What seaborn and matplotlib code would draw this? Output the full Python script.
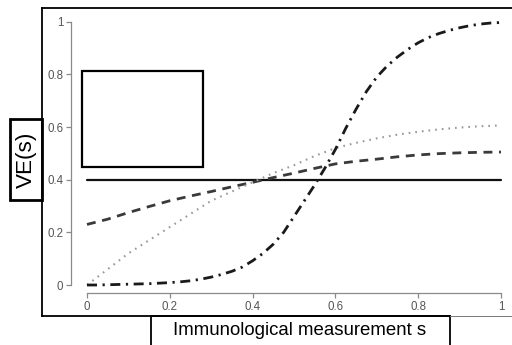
import numpy as np
import pandas as pd
import seaborn as sns
import matplotlib
matplotlib.use("Agg")
import matplotlib.pyplot as plt
from matplotlib.lines import Line2D
from matplotlib.patches import Rectangle

# ---- data ----
s = [0.0, 0.05, 0.1, 0.15, 0.2, 0.25, 0.3, 0.35, 0.4, 0.45, 0.5,
     0.55, 0.6, 0.65, 0.7, 0.75, 0.8, 0.85, 0.9, 0.95, 1.0]
ve_constant = [0.4] * 21
ve_dashed = [0.23, 0.25, 0.275, 0.298, 0.32, 0.338, 0.355, 0.373, 0.39, 0.408, 0.425,
             0.443, 0.46, 0.47, 0.478, 0.487, 0.494, 0.499, 0.502, 0.504, 0.505]
ve_dotted = [0.0, 0.06, 0.12, 0.17, 0.22, 0.27, 0.32, 0.355, 0.39, 0.425, 0.455,
             0.49, 0.52, 0.54, 0.557, 0.571, 0.582, 0.591, 0.598, 0.603, 0.606]
s_fine = [0.0, 0.025, 0.05, 0.075, 0.1, 0.125, 0.15, 0.175, 0.2, 0.225, 0.25,
          0.275, 0.3, 0.325, 0.35, 0.375, 0.4, 0.425, 0.45, 0.475, 0.5,
          0.525, 0.55, 0.575, 0.6, 0.625, 0.65, 0.675, 0.7, 0.725, 0.75,
          0.775, 0.8, 0.825, 0.85, 0.875, 0.9, 0.925, 0.95, 0.975, 1.0]
ve_dotdash = [0.0, 0.0, 0.001, 0.002, 0.003, 0.004, 0.005, 0.007, 0.009, 0.012, 0.016,
              0.022, 0.03, 0.04, 0.052, 0.068, 0.092, 0.12, 0.155, 0.2, 0.26,
              0.32, 0.38, 0.445, 0.515, 0.595, 0.668, 0.735, 0.79, 0.832, 0.866,
              0.895, 0.92, 0.94, 0.955, 0.967, 0.977, 0.985, 0.991, 0.995, 0.997]
xticks = [0, 0.2, 0.4, 0.6, 0.8, 1]
xticklabels = ["0", "0.2", "0.4", "0.6", "0.8", "1"]
yticks = [0, 0.2, 0.4, 0.6, 0.8, 1]
yticklabels = ["0", "0.2", "0.4", "0.6", "0.8", "1"]
xlabel = "Immunological measurement s"
ylabel = "VE(s)"

sns.set_theme(style="white")
plt.rcParams['font.family'] = ['Liberation Sans', 'DejaVu Sans']

W, H = 512, 345
fig = plt.figure(figsize=(W / 100, H / 100), dpi=100)

def fx(px):
    return px / W

def fy(py):
    return 1 - py / H

# axes placement (pixels)
axL, axR, axT, axB = 71, 505, 18, 293
ax = fig.add_axes([fx(axL), fy(axB), (axR - axL) / W, (axB - axT) / H])
x0px, x1px = 87, 501
y0px, y1px = 285, 21.7
xs = (x1px - x0px)
ys = (y0px - y1px)
ax.set_xlim((axL - x0px) / xs, 1 + (axR - x1px) / xs)
ax.set_ylim(-(axB - y0px) / ys, 1 + (y1px - axT) / ys)

sns.lineplot(x=s, y=ve_constant, ax=ax, color="#111111", lw=1.6, linestyle="-")
sns.lineplot(x=s, y=ve_dashed, ax=ax, color="#3a3a3a", lw=2.0, linestyle=(0, (3.2, 2.4)))
sns.lineplot(x=s, y=ve_dotted, ax=ax, color="#999999", lw=1.5, linestyle=(0, (0.8, 2.4)))
sns.lineplot(x=s_fine, y=ve_dotdash, ax=ax, color="#1a1a1a", lw=2.0,
             linestyle=(0, (3.6, 2.0, 0.8, 2.0)))

for side in ["top", "right"]:
    ax.spines[side].set_visible(False)
for side in ["left", "bottom"]:
    ax.spines[side].set_color("#8a8a8a")
    ax.spines[side].set_linewidth(0.9)
ax.spines["left"].set_bounds(0, 1)
ax.spines["bottom"].set_bounds(0, 1)
ax.set_xticks(xticks)
ax.set_xticklabels(xticklabels)
ax.set_yticks(yticks)
ax.set_yticklabels(yticklabels)
ax.tick_params(axis="both", which="major", length=3.6, width=0.9, color="#8a8a8a",
               labelsize=8.3, labelcolor="#555555", pad=2, direction="out",
               left=True, bottom=True)
ax.set_xlabel("")
ax.set_ylabel("")
ax.patch.set_alpha(0)

# empty legend box
ax.add_patch(Rectangle((fx(82), fy(167.3)), fx(202.7) - fx(82), fy(71) - fy(167.3),
                       transform=fig.transFigure, fill=False, ec="black", lw=1.6))

# outer frame
def fline(xa, ya, xb, yb, color="black", lw=1.2):
    fig.add_artist(Line2D([fx(xa), fx(xb)], [fy(ya), fy(yb)], color=color, lw=lw,
                          transform=fig.transFigure, solid_capstyle="projecting"))

fline(42, 8, 512, 8, lw=1.3)
fline(42, 8, 42, 316, lw=1.3)
fline(42, 316, 450, 316, lw=1.3)
fline(450, 316, 512, 316, color="#777777", lw=0.7)

# y label box
fig.add_artist(Rectangle((fx(10), fy(200)), fx(42) - fx(10), fy(119) - fy(200),
                         transform=fig.transFigure, fill=False, ec="black", lw=2.0))
fig.text(fx(26.5), fy(159.5), ylabel, rotation=90, ha="center", va="center",
         fontsize=16.2, color="black")

# x label box
fig.add_artist(Rectangle((fx(150.5), fy(350)), fx(450) - fx(150.5), fy(316) - fy(350),
                         transform=fig.transFigure, fill=False, ec="black", lw=1.3))
fig.text(fx(300), fy(330.5), xlabel, ha="center", va="center", fontsize=13.4,
         color="black")

fig.savefig("out.png", dpi=100)
